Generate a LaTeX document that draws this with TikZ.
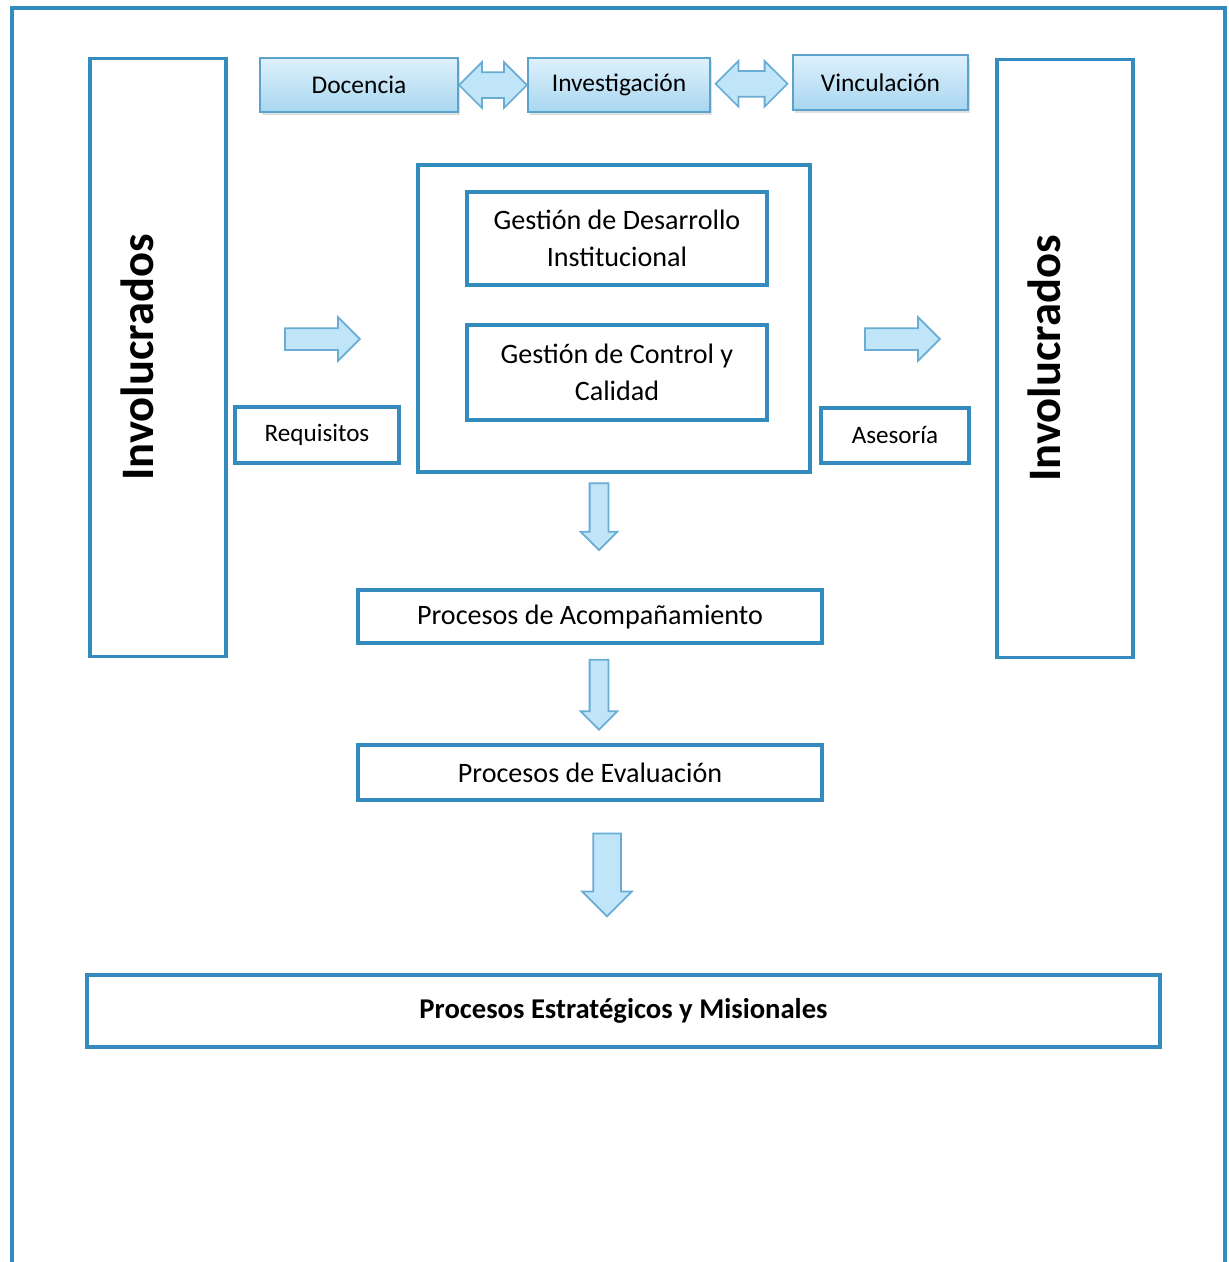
\documentclass[tikz,border=0pt]{standalone}
\usepackage{fontspec}
\setmainfont{Carlito}
\usetikzlibrary{shapes.arrows, calc, shadows}
\definecolor{framecol}{RGB}{52,139,190}
\definecolor{arrowfill}{RGB}{192,228,248}
\definecolor{arrowline}{RGB}{105,172,212}
\definecolor{toptop}{RGB}{222,241,252}
\definecolor{topbot}{RGB}{168,214,240}

\begin{document}
\begin{tikzpicture}[x=0.02cm, y=-0.02cm,
    box/.style={rectangle, draw=framecol, line width=2pt, fill=white, align=center, font=\fontsize{16}{21}\selectfont},
    smallbox/.style={box, font=\fontsize{14.3}{17}\selectfont},
    topbox/.style={rectangle, draw=framecol!80, line width=1pt, top color=toptop, bottom color=topbot, font=\fontsize{14.5}{17}\selectfont, drop shadow={opacity=0.25, shadow xshift=1pt, shadow yshift=-1.5pt}},
    sidebox/.style={rectangle, draw=framecol, line width=2pt, minimum width=2.72cm, minimum height=11.96cm},
    sidetext/.style={rotate=90, yshift=0.41cm, font=\fontsize{26.5}{30}\selectfont\bfseries},
    rarrow/.style={single arrow, draw=arrowline, line width=1pt, fill=arrowfill, inner xsep=0pt, inner ysep=0.2cm, single arrow head extend=0.22cm},
    downarrow/.style={single arrow, shape border rotate=270, draw=arrowline, line width=1pt, fill=arrowfill, inner ysep=0pt, inner xsep=0.17cm, single arrow head extend=0.18cm},
    darrow/.style={double arrow, draw=arrowline, line width=1pt, fill=arrowfill, inner xsep=0pt, inner ysep=0.24cm, double arrow head extend=0.2cm},
]
\useasboundingbox (0,0) rectangle (1229,1262);

% Outer frame
\draw[framecol, line width=2pt] (12,1262) -- (12,8) -- (1225,8) -- (1225,1262);

% Involucrados
\node[sidebox] (leftinv) at (158,357.5) {};
\node[sidetext] at (leftinv.center) {Involucrados};
\node[sidebox] (rightinv) at (1065,358.5) {};
\node[sidetext] at (rightinv.center) {Involucrados};

% Top row
\node[topbox, minimum width=3.96cm, minimum height=1.08cm] (doc) at (359,85) {Docencia};
\node[topbox, minimum width=3.64cm, minimum height=1.08cm] (inv) at (619,85) {Investigación};
\node[topbox, minimum width=3.5cm, minimum height=1.1cm] (vin) at (880.5,82.5) {Vinculación};
\node[darrow, minimum height=1.36cm] (da1) at ($(doc.east)!0.5!(inv.west)$) {};
\node[darrow, minimum height=1.44cm] (da2) at ($(inv.east)!0.5!(vin.west)$) {};

% Gestion block
\node[box, minimum width=7.84cm, minimum height=6.14cm] (gest) at (614,318.5) {};
\node[box, minimum width=6cm, minimum height=1.86cm] (gdi) at (617,238.5) {Gestión de Desarrollo\\Institucional};
\node[box, minimum width=6cm, minimum height=1.9cm] (gcc) at (617,372.5) {Gestión de Control y\\Calidad};

% Requisitos / Asesoria
\node[rarrow, minimum height=1.5cm] (ra1) at (317,339) {};
\node[smallbox, minimum width=3.28cm, minimum height=1.12cm] (req) at (317,435) {Requisitos};
\node[rarrow, minimum height=1.5cm] (ra2) at (897,339) {};
\node[smallbox, minimum width=2.96cm, minimum height=1.1cm] (ase) at (895,435.5) {Asesoría};

% Procesos
\node[downarrow, minimum height=1.34cm] (dw1) at (599,512) {};
\node[box, minimum width=9.28cm, minimum height=1.06cm] (acomp) at (590,616.5) {Procesos de Acompañamiento};
\node[downarrow, minimum height=1.4cm] (dw2) at (599,690) {};
\node[box, minimum width=9.28cm, minimum height=1.1cm] (eval) at (590,772.5) {Procesos de Evaluación};
\node[downarrow, minimum height=1.66cm, inner xsep=0.26cm, single arrow head extend=0.22cm] (dw3) at (607,868) {};
\node[box, minimum width=21.46cm, minimum height=1.44cm, font=\fontsize{16.3}{20}\selectfont\bfseries] (estr) at (623.5,1011) {Procesos Estratégicos y Misionales};

\end{tikzpicture}
\end{document}
